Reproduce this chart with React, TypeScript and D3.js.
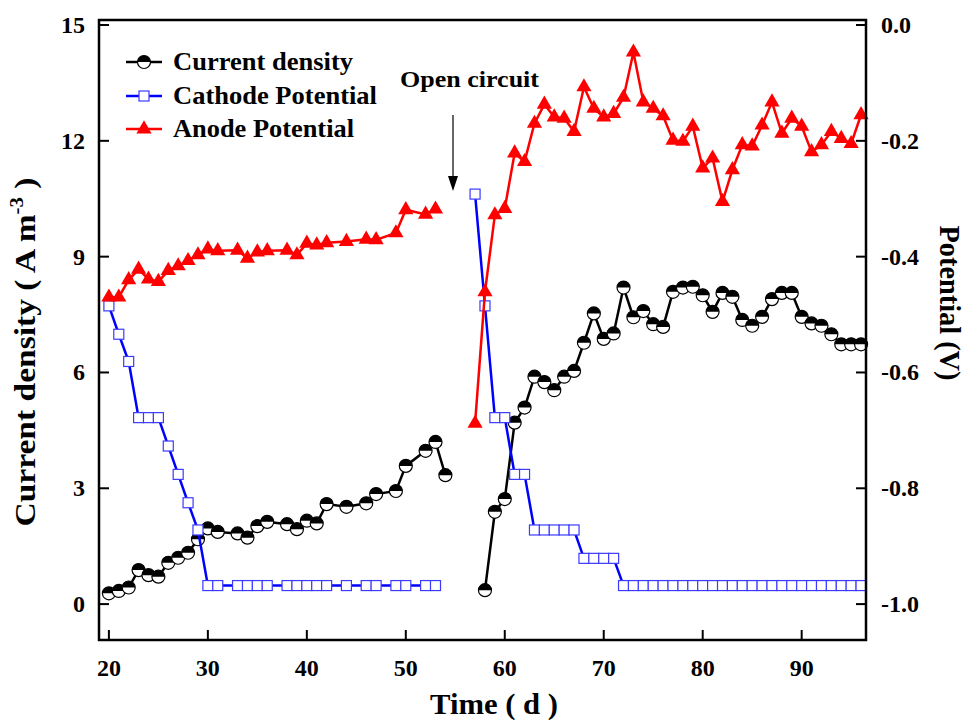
import React from "react";
import * as d3 from "d3";

const days1 = [20,21,22,23,24,25,26,27,28,29,30,31,33,34,35,36,38,39,40,41,42,44,46,47,49,50,52,53];
const currentDays1 = [...days1, 54];
const current1 = [0.28,0.34,0.43,0.88,0.75,0.71,1.07,1.2,1.33,1.68,1.96,1.87,1.83,1.72,2.02,2.13,2.07,1.94,2.16,2.09,2.59,2.52,2.61,2.85,2.93,3.58,3.97,4.2,3.34];
const days2 = d3.range(57, 97);
const currentDays2 = d3.range(58, 97);
const current2 = [0.36,2.39,2.72,4.7,5.09,5.89,5.75,5.54,5.89,6.04,6.77,7.53,6.87,7.01,8.2,7.43,7.59,7.25,7.18,8.09,8.2,8.22,8.0,7.57,8.06,7.96,7.36,7.21,7.44,7.9,8.06,8.06,7.44,7.27,7.21,6.99,6.73,6.73,6.73];
const cathode1 = [-0.485,-0.534,-0.581,-0.678,-0.678,-0.678,-0.727,-0.776,-0.825,-0.872,-0.968,-0.968,-0.968,-0.968,-0.968,-0.968,-0.968,-0.968,-0.968,-0.968,-0.968,-0.968,-0.968,-0.968,-0.968,-0.968,-0.968,-0.968];
const cathode2 = [-0.292,-0.485,-0.678,-0.678,-0.776,-0.776,-0.872,-0.872,-0.872,-0.872,-0.872,-0.921,-0.921,-0.921,-0.921,-0.968,-0.968,-0.968,-0.968,-0.968,-0.968,-0.968,-0.968,-0.968,-0.968,-0.968,-0.968,-0.968,-0.968,-0.968,-0.968,-0.968,-0.968,-0.968,-0.968,-0.968,-0.968,-0.968,-0.968,-0.968];
const anode1 = [-0.47,-0.47,-0.44,-0.422,-0.439,-0.443,-0.424,-0.416,-0.407,-0.397,-0.387,-0.39,-0.389,-0.403,-0.392,-0.39,-0.389,-0.397,-0.377,-0.38,-0.376,-0.374,-0.37,-0.371,-0.359,-0.319,-0.327,-0.318];
const anode2 = [-0.688,-0.461,-0.328,-0.317,-0.221,-0.236,-0.17,-0.137,-0.159,-0.161,-0.184,-0.107,-0.144,-0.159,-0.153,-0.125,-0.047,-0.133,-0.144,-0.157,-0.199,-0.201,-0.175,-0.247,-0.23,-0.305,-0.25,-0.207,-0.209,-0.173,-0.133,-0.187,-0.161,-0.175,-0.219,-0.207,-0.184,-0.196,-0.205,-0.155];

const xTicks = [20,30,40,50,60,70,80,90];
const leftTicks = [0,3,6,9,12,15];
const rightTicks = [0.0,-0.2,-0.4,-0.6,-0.8,-1.0];
const legendLabels = ["Current density","Cathode Potential","Anode Potential"];

const W = 969, H = 724;
const L = 99, R = 866, T = 20, B = 640;
const FONT = "'Liberation Serif', 'Times New Roman', serif";

type Pt = [number, number];
const zip = (a: number[], b: number[]): Pt[] => a.map((d, i) => [d, b[i]]);

export default function App() {
  const x = d3.scaleLinear().domain([19, 96.5]).range([L, R]);
  const yL = d3.scaleLinear().domain([-0.93, 15.13]).range([B, T]);
  const yR = d3.scaleLinear().domain([-0.93 / 15 - 1, 15.13 / 15 - 1]).range([B, T]);

  const lineL = d3.line<Pt>().x(d => x(d[0])).y(d => yL(d[1]));
  const lineR = d3.line<Pt>().x(d => x(d[0])).y(d => yR(d[1]));

  const cur = [zip(currentDays1, current1), zip(currentDays2, current2)];
  const cat = [zip(days1, cathode1), zip(days2, cathode2)];
  const ano = [zip(days1, anode1), zip(days2, anode2)];

  const tri = d3.symbol().type(d3.symbolTriangle).size(100)() as string;
  const r = 6.5;
  const halfCircle = (cx: number, cy: number, k: string) => (
    <g key={k} transform={`translate(${cx},${cy})`}>
      <circle r={r} fill="#fff" stroke="#000" strokeWidth={1.2} />
      <path d={`M${-r},0 A${r},${r} 0 0 1 ${r},0 Z`} fill="#000" />
    </g>
  );
  const sq = 10;
  const square = (cx: number, cy: number, k: string) => (
    <rect key={k} x={cx - sq / 2} y={cy - sq / 2} width={sq} height={sq} fill="#fff" stroke="#3b3bff" strokeWidth={1.2} />
  );
  const triangle = (cx: number, cy: number, k: string) => (
    <path key={k} d={tri} transform={`translate(${cx},${cy})`} fill="#ff0000" />
  );

  const legY = [62, 96, 129];
  const legLen = [180, 204, 181];

  return (
    <svg width={W} height={H} style={{ position: "absolute", left: 0, top: 0, background: "#fff" }} fontFamily={FONT} fontWeight="bold">
      {/* current density */}
      {cur.map((s, i) => <path key={"cl" + i} d={lineL(s) as string} fill="none" stroke="#000" strokeWidth={2.5} />)}
      {cur.flat().map((d, i) => halfCircle(x(d[0]), yL(d[1]), "c" + i))}
      {/* cathode */}
      {cat.map((s, i) => <path key={"bl" + i} d={lineR(s) as string} fill="none" stroke="#0000ff" strokeWidth={2.5} />)}
      {cat.flat().map((d, i) => square(x(d[0]), yR(d[1]), "b" + i))}
      {/* anode */}
      {ano.map((s, i) => <path key={"rl" + i} d={lineR(s) as string} fill="none" stroke="#ff0000" strokeWidth={2.5} />)}
      {ano.flat().map((d, i) => triangle(x(d[0]), yR(d[1]), "r" + i))}

      {/* frame */}
      <rect x={L} y={T} width={R - L} height={B - T} fill="none" stroke="#000" strokeWidth={2.5} />
      {xTicks.map(t => (
        <g key={"xt" + t}>
          <line x1={x(t)} x2={x(t)} y1={B} y2={B - 10} stroke="#000" strokeWidth={2} />
          <text x={x(t)} y={676} textAnchor="middle" fontSize={24}>{t}</text>
        </g>
      ))}
      {leftTicks.map(t => (
        <g key={"lt" + t}>
          <line x1={L} x2={L + 10} y1={yL(t)} y2={yL(t)} stroke="#000" strokeWidth={2} />
          <text x={85} y={yL(t) + 8} textAnchor="end" fontSize={24}>{t}</text>
        </g>
      ))}
      {rightTicks.map(t => (
        <g key={"rt" + t}>
          <line x1={R} x2={R - 10} y1={yR(t)} y2={yR(t)} stroke="#000" strokeWidth={2} />
          <text x={881} y={yR(t) + 8} textAnchor="start" fontSize={24}>{t.toFixed(1)}</text>
        </g>
      ))}

      {/* axis titles */}
      <text x={494} y={714} textAnchor="middle" fontSize={29} textLength={128} lengthAdjust="spacingAndGlyphs">Time ( d )</text>
      <text transform={`translate(35,352) rotate(-90)`} textAnchor="middle" fontSize={29} textLength={349} lengthAdjust="spacingAndGlyphs">
        Current density ( A m<tspan dy={-12} fontSize={18}>-3</tspan><tspan dy={12}> )</tspan>
      </text>
      <text transform={`translate(940,303) rotate(90)`} textAnchor="middle" fontSize={29} textLength={155} lengthAdjust="spacingAndGlyphs">Potential (V)</text>

      {/* legend */}
      {legendLabels.map((lab, i) => {
        const cy = legY[i];
        const color = i === 0 ? "#000" : i === 1 ? "#0000ff" : "#ff0000";
        return (
          <g key={"lg" + i}>
            <line x1={126} x2={162} y1={cy} y2={cy} stroke={color} strokeWidth={2.5} />
            {i === 0 ? halfCircle(144, cy, "lgm0") : i === 1 ? square(144, cy, "lgm1") : triangle(144, cy, "lgm2")}
            <text x={173} y={cy + 8} fontSize={25} textLength={legLen[i]} lengthAdjust="spacingAndGlyphs">{lab}</text>
          </g>
        );
      })}

      {/* open circuit annotation */}
      <text x={400} y={87} textAnchor="start" fontSize={24} textLength={139} lengthAdjust="spacingAndGlyphs">Open circuit</text>
      <line x1={453} x2={453} y1={115} y2={178} stroke="#000" strokeWidth={1.2} />
      <path d="M448,176 L458,176 L453,191 Z" fill="#000" />
    </svg>
  );
}
